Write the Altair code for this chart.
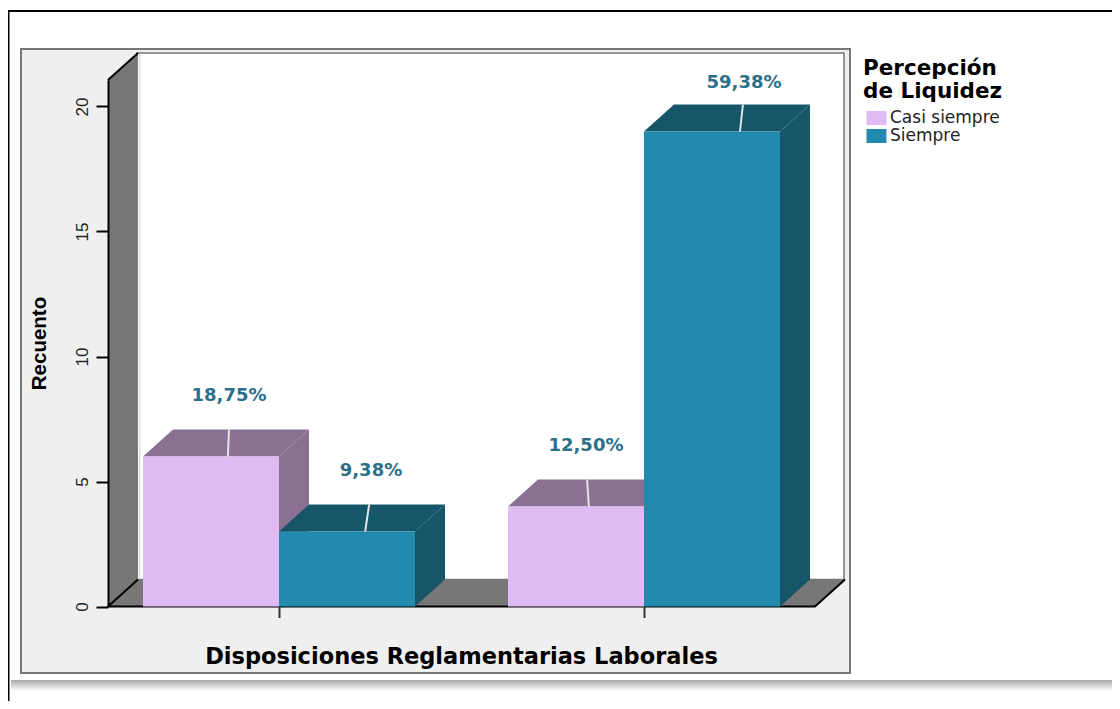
import altair as alt
import pandas as pd

# ---- values ----
groups = [0, 0, 1, 1]
series = ["Casi siempre", "Siempre", "Casi siempre", "Siempre"]
counts = [6, 3, 4, 19]
percent_labels = ["18,75%", "9,38%", "12,50%", "59,38%"]
label_x = [-0.137, 0.252, 0.841, 1.274]
label_y = [8.42, 5.42, 6.42, 20.95]
leader_front_x = [-0.140, 0.236, 0.849, 1.263]
leader_back_x = [-0.137, 0.247, 0.844, 1.271]
series_names = ["Casi siempre", "Siempre"]
front_colors = ["#dfbaf3", "#248aad"]
shade_colors = {"Casi siempre": "#8a7093", "Siempre": "#155668"}
y_ticks = [0, 5, 10, 15, 20]

BAR_W = 0.3726
DX = 0.0822
DY = 1.08
Y_TOP = 21.06
WALL_L = -0.4685
WALL_R_FRONT = 1.4685
WALL_COLOR = "#777777"
INK = "#000000"
W, H = 1104, 693

xs = alt.Scale(domain=[0, 1], range=[271, 636], nice=False, zero=False)
ys = alt.Scale(domain=[0, Y_TOP], range=[598.5, 72], nice=False, zero=False)
xaxis = alt.Axis(values=[0, 1], labels=False, domain=False, grid=False, tickSize=11, tickWidth=2, zindex=1,
                 tickColor="#333333", offset=598.5 - H, title="Disposiciones Reglamentarias Laborales",
                 titleFont="DejaVu Sans", titleFontWeight="bold", titleFontSize=22.5, titleColor="#000000",
                 titleX=453, titleY=50, titleBaseline="middle", titleAnchor="middle", titleAlign="center")
yaxis = alt.Axis(values=y_ticks, grid=False, domain=True, domainColor=INK, domainWidth=2, tickColor=INK, zindex=1,
                 tickWidth=2, tickSize=12, labelAngle=-90, labelFont="Liberation Sans", labelFontSize=17,
                 labelColor="#222222", labelPadding=5, labelAlign="center", labelBaseline="bottom", offset=-100,
                 title="Recuento", titleFont="Liberation Sans", titleFontWeight="bold", titleFontSize=20.5,
                 titleColor="#000000", titleAngle=-90, titleX=-69, titleY=343 - 8, titleBaseline="middle",
                 titleAlign="center")
X = alt.X("x:Q", scale=xs, axis=xaxis)
Y = alt.Y("y:Q", scale=ys, axis=yaxis)


def box(x0, x1, y0, y1, fill, stroke=None, sw=0):
    kw = dict(fill=fill)
    if stroke:
        kw.update(stroke=stroke, strokeWidth=sw)
    return alt.Chart().mark_rect(**kw).encode(
        x=alt.value(x0 - 8), x2=alt.value(x1 - 8), y=alt.value(y0 - 8), y2=alt.value(y1 - 8))


# page furniture
frame_top = box(8, 1112, 10, 12, "#000000")
frame_left = box(8, 9.5, 10, 701, "#000000")
shadow = alt.Chart().mark_rect(
    color=alt.LinearGradient(gradient="linear", x1=0, x2=0, y1=0, y2=1,
                             stops=[alt.GradientStop(color="#a8a8a8", offset=0),
                                    alt.GradientStop(color="#ffffff", offset=1)])
).encode(x=alt.value(3), x2=alt.value(1104), y=alt.value(672), y2=alt.value(683))
panel = box(21, 850, 49, 673, "#efefef", "#777777", 2)
back = box(137, 844, 53, 579.5, "#ffffff", "#777777", 1.5)
wall_edge = box(139, 140.5, 54, 579, "#dddddd")

# wall and floor
wall_df = pd.DataFrame({"x": [WALL_L, WALL_L + DX], "y": [0, DY], "y2": [Y_TOP, Y_TOP + DY]})
floor_df = pd.DataFrame({"x": [WALL_L, WALL_L + DX, WALL_R_FRONT, WALL_R_FRONT + DX],
                         "y": [0, 0, 0, DY], "y2": [0, DY, DY, DY]})
wall = alt.Chart(wall_df).mark_area(color=WALL_COLOR, opacity=1).encode(x=X, y=Y, y2="y2:Q")
floor = alt.Chart(floor_df).mark_area(color=WALL_COLOR, opacity=1).encode(x=X, y=Y, y2="y2:Q")

edge_rows = [
    (0, WALL_L, Y_TOP), (0, WALL_L + DX, Y_TOP + DY),
    (1, WALL_L, 0), (1, WALL_L + DX, DY),
    (2, WALL_L, 0), (2, WALL_R_FRONT, 0), (2, WALL_R_FRONT + DX, DY),
]
edge_df = pd.DataFrame(edge_rows, columns=["e", "x", "y"])
edge = alt.Chart(edge_df).mark_line(color=INK, strokeWidth=2).encode(x=X, y=Y, detail="e:N")

# bars
fronts, faces = [], []
for i, (g, s, c) in enumerate(zip(groups, series, counts)):
    left = g - BAR_W if s == series_names[0] else g
    right = left + BAR_W
    fronts.append({"x": left, "x2": right, "y": 0, "y2": c, "s": s})
    faces += [
        {"f": f"{i}a", "x": right, "y": 0, "y2": c, "s": s},
        {"f": f"{i}a", "x": right + DX, "y": DY, "y2": c + DY, "s": s},
        {"f": f"{i}b", "x": left, "y": c, "y2": c, "s": s},
        {"f": f"{i}b", "x": left + DX, "y": c, "y2": c + DY, "s": s},
        {"f": f"{i}b", "x": right, "y": c, "y2": c + DY, "s": s},
        {"f": f"{i}b", "x": right + DX, "y": c + DY, "y2": c + DY, "s": s},
    ]
front_df = pd.DataFrame(fronts)
face_df = pd.DataFrame(faces)
face_df["shade"] = face_df["s"].map(shade_colors)

face_layers = [
    alt.Chart(face_df[face_df["f"].str[0] == str(i)]).mark_area(opacity=1).encode(
        x=X, y=Y, y2="y2:Q", detail="f:N", fill=alt.Fill("shade:N", scale=None))
    for i in range(4)
]
front = alt.Chart(front_df).mark_rect().encode(
    x=X, x2="x2:Q", y=Y, y2="y2:Q",
    color=alt.Color("s:N", scale=alt.Scale(domain=series_names, range=front_colors),
                    legend=alt.Legend(title=["Percepción", "de Liquidez"], orient="none", legendX=855, legendY=50,
                                      titleFont="DejaVu Sans", titleFontWeight="bold", titleFontSize=21.5,
                                      titleColor="#000000", titleLineHeight=23, titlePadding=7, titleLimit=300,
                                      labelFont="DejaVu Sans", labelFontSize=17, labelColor="#222222",
                                      labelLimit=300, symbolType="M-1.43,-1H1.43V1H-1.43Z", symbolSize=196,
                                      symbolStrokeWidth=0, symbolOpacity=1, symbolOffset=5, labelOffset=5,
                                      rowPadding=0, padding=0, offset=0)),
)

# percentage labels and their leader lines
label_df = pd.DataFrame({
    "x": label_x, "y": label_y, "t": percent_labels,
    "lx0": leader_front_x, "lx1": leader_back_x, "ly0": counts, "ly1": [c + DY for c in counts],
})
leader = alt.Chart(label_df).mark_rule(color="#e4e4e4", strokeWidth=2).encode(
    x=alt.X("lx0:Q", scale=xs, axis=xaxis), x2="lx1:Q",
    y=alt.Y("ly0:Q", scale=ys, axis=yaxis), y2="ly1:Q")
labels = alt.Chart(label_df).mark_text(font="DejaVu Sans", fontWeight="bold", fontSize=18, color="#2b6f88",
                                       baseline="middle", align="center").encode(x=X, y=Y, text="t:N")

chart = alt.layer(
    frame_top, frame_left, shadow, panel, back, wall_edge, wall, floor, edge,
    face_layers[0], face_layers[1], face_layers[2], face_layers[3], front, leader, labels,
).properties(width=W, height=H, padding=0, background="#ffffff",
             autosize=alt.AutoSizeParams(type="none")
).configure_view(stroke=None)

chart.save("out.html", embed_options={"renderer": "svg", "actions": False})
